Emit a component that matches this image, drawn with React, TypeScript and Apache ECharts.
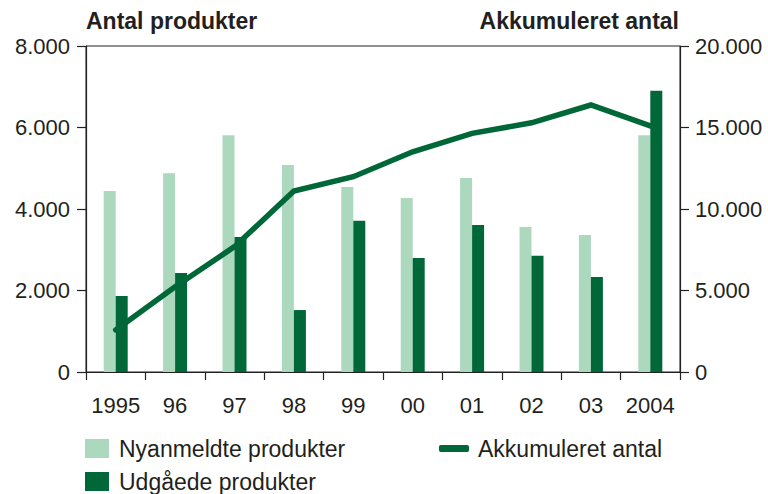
import React, { useEffect, useRef } from "react";
import * as echarts from "echarts";

const categories = ["1995", "96", "97", "98", "99", "00", "01", "02", "03", "2004"];
const nyanmeldte = [4440, 4880, 5810, 5080, 4540, 4270, 4760, 3560, 3360, 5810];
const udgaede = [1865, 2430, 3310, 1520, 3710, 2800, 3610, 2850, 2330, 6900];
const akkumuleret = [2580, 5230, 7690, 11100, 11980, 13510, 14640, 15290, 16380, 15100];

const FONT = "'Liberation Sans', Arial, Helvetica, sans-serif";
const TEXT = "#231f20";
const LIGHT = "#acd9be";
const DARK = "#006838";

const fmt = (v: number) => String(v).replace(/\B(?=(\d{3})+(?!\d))/g, ".");

const legendText = { fontSize: 23, color: TEXT, fontFamily: FONT, padding: [0, 0, 0, 5] };

export default function App() {
  const ref = useRef<HTMLDivElement>(null);
  useEffect(() => {
    if (!ref.current) return;
    const chart = echarts.init(ref.current, undefined, { renderer: "svg" });
    chart.setOption({
      animation: false,
      backgroundColor: "#fff",
      textStyle: { fontFamily: FONT, color: TEXT },
      title: [
        {
          text: "Antal produkter",
          left: 86,
          top: 9,
          padding: 0,
          textStyle: { fontSize: 23, fontWeight: "bold", color: TEXT, fontFamily: FONT },
        },
        {
          text: "Akkumuleret antal",
          right: 89,
          top: 9,
          padding: 0,
          textStyle: { fontSize: 23, fontWeight: "bold", color: TEXT, fontFamily: FONT },
        },
      ],
      legend: [
        {
          data: [{ name: "Nyanmeldte produkter", icon: "rect" }],
          left: 85,
          top: 437,
          padding: 0,
          itemWidth: 24,
          itemHeight: 19,
          textStyle: legendText,
        },
        {
          data: [{ name: "Udgåede produkter", icon: "rect" }],
          left: 85,
          top: 470,
          padding: 0,
          itemWidth: 24,
          itemHeight: 19,
          textStyle: legendText,
        },
        {
          data: [{ name: "Akkumuleret antal", icon: "roundRect" }],
          left: 439,
          top: 437,
          padding: 0,
          itemWidth: 30,
          itemHeight: 7,
          textStyle: { ...legendText, padding: [0, 0, 0, 4] },
        },
      ],
      grid: {
        left: 86,
        right: 88,
        top: 46,
        bottom: 122,
        show: true,
        borderColor: "#222",
        borderWidth: 1,
        containLabel: false,
      },
      xAxis: {
        type: "category",
        data: categories,
        boundaryGap: true,
        axisLine: { lineStyle: { color: "#222", width: 1.2 } },
        axisTick: { show: true, length: 8, alignWithLabel: false, lineStyle: { color: "#222", width: 1.2 } },
        axisLabel: { fontSize: 22, color: TEXT, margin: 22, fontFamily: FONT, interval: 0 },
      },
      yAxis: [
        {
          type: "value",
          min: 0,
          max: 8000,
          interval: 2000,
          axisLine: { show: true, lineStyle: { color: "#222", width: 1.2 } },
          axisTick: { show: true, length: 9, lineStyle: { color: "#222", width: 1.2 } },
          splitLine: { show: false },
          axisLabel: { fontSize: 22, color: TEXT, margin: 16, fontFamily: FONT, formatter: fmt },
        },
        {
          type: "value",
          min: 0,
          max: 20000,
          interval: 5000,
          position: "right",
          axisLine: { show: true, lineStyle: { color: "#222", width: 1.2 } },
          axisTick: { show: true, length: 9, lineStyle: { color: "#222", width: 1.2 } },
          splitLine: { show: false },
          axisLabel: { fontSize: 22, color: TEXT, margin: 15, fontFamily: FONT, formatter: fmt },
        },
      ],
      series: [
        {
          name: "Nyanmeldte produkter",
          type: "bar",
          data: nyanmeldte,
          barWidth: 12,
          barGap: "0%",
          itemStyle: { color: LIGHT },
          yAxisIndex: 0,
        },
        {
          name: "Udgåede produkter",
          type: "bar",
          data: udgaede,
          barWidth: 12,
          barGap: "0%",
          itemStyle: { color: DARK },
          yAxisIndex: 0,
        },
        {
          name: "Akkumuleret antal",
          type: "line",
          data: akkumuleret,
          yAxisIndex: 1,
          symbol: "none",
          showSymbol: false,
          itemStyle: { color: DARK },
          lineStyle: { color: DARK, width: 5.5, cap: "round", join: "miter" },
          z: 5,
        },
      ],
    });
    return () => chart.dispose();
  }, []);
  return (
    <div
      ref={ref}
      style={{ position: "absolute", left: 0, top: 0, width: 768, height: 494, overflow: "hidden" }}
    />
  );
}
